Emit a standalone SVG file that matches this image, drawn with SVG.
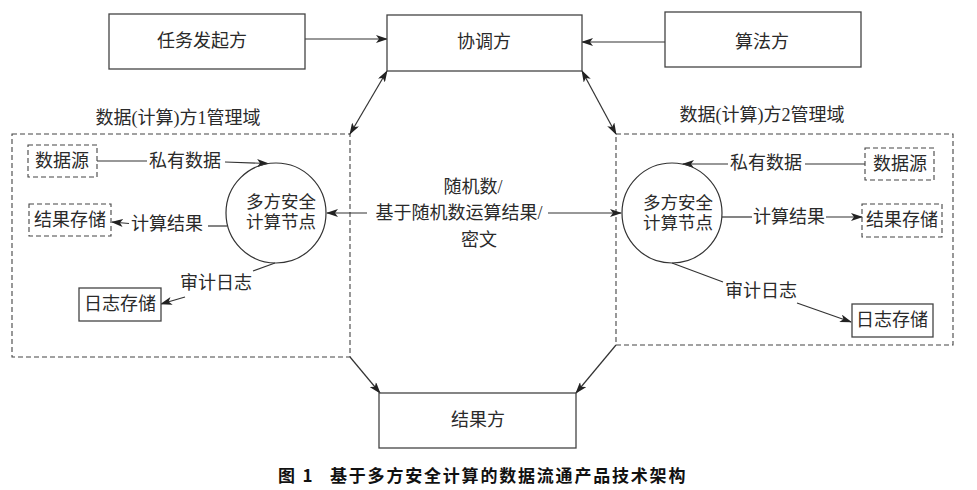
<svg xmlns="http://www.w3.org/2000/svg" width="977" height="490" viewBox="0 0 977 490">
<defs>
<marker id="ah" viewBox="0 0 12 8" refX="11" refY="4" markerWidth="12" markerHeight="8" markerUnits="userSpaceOnUse" orient="auto-start-reverse">
<path d="M0,0 L12,4 L0,8 L3,4 z" fill="#222"/>
</marker>
</defs>
<style>
text{font-family:"Liberation Serif","Noto Sans CJK SC",serif;font-size:18px;fill:#2a2a2a;text-anchor:middle;dominant-baseline:central}
.ct{font-size:17.5px}
.box{fill:#fff;stroke:#444;stroke-width:1.3}
.dbox{fill:none;stroke:#444;stroke-width:1.1;stroke-dasharray:5 3}
.node{fill:none;stroke:#333;stroke-width:1.2}
.ln{fill:none;stroke:#333;stroke-width:1.2}
.ar{fill:none;stroke:#333;stroke-width:1.2;marker-end:url(#ah)}
.ar2{fill:none;stroke:#333;stroke-width:1.2;marker-end:url(#ah);marker-start:url(#ah)}
.cap{font-family:"Noto Sans CJK SC",sans-serif;font-weight:bold;font-size:17px;fill:#111;text-anchor:start;letter-spacing:1.8px}
</style>
<rect width="977" height="490" fill="#fff"/>

<g id="domain1">
<rect class="dbox" x="12" y="134" width="338" height="223"/>
<text x="178" y="118">数据(计算)方1管理域</text>
</g>
<g id="domain2">
<rect class="dbox" x="616" y="134" width="337" height="211"/>
<text x="762" y="115">数据(计算)方2管理域</text>
</g>

<g id="connectors">
<path class="ar" d="M305,39 L387,39"/>
<path class="ar" d="M665,42 L582,42"/>
<path class="ar2" d="M387,71 L350,134"/>
<path class="ar2" d="M582,71 L616,134"/>
<path class="ar" d="M350,357 L380,393"/>
<path class="ar" d="M616,345 L576,393"/>
<path class="ar" d="M367,213 L327,213"/>
<path class="ar" d="M548,213 L621,213"/>
<path class="ln" d="M97,161 L147,161"/>
<path class="ar" d="M225,162 L268,163.5"/>
<path class="ln" d="M227,226 L208,226"/>
<path class="ar" d="M129,223.5 L112,222"/>
<path class="ln" d="M275,263 L253,271"/>
<path class="ar" d="M185,297 L161,304"/>
<path class="ln" d="M865,164 L805,164"/>
<path class="ar" d="M728,164 L683,164"/>
<path class="ln" d="M722,217 L752,217"/>
<path class="ar" d="M826,217 L862,217"/>
<path class="ln" d="M672,263 L723,282"/>
<path class="ar" d="M797,303 L851,322"/>
<text x="185" y="161">私有数据</text>
<text x="167" y="224">计算结果</text>
<text x="216" y="283">审计日志</text>
<text x="766" y="163">私有数据</text>
<text x="789" y="217">计算结果</text>
<text x="761" y="291">审计日志</text>
<text x="473" y="187">随机数/</text>
<text x="459" y="213">基于随机数运算结果/</text>
<text x="479" y="240">密文</text>
</g>

<g id="initiator">
<rect class="box" x="109" y="14" width="196" height="55"/>
<text x="202" y="41">任务发起方</text>
</g>
<g id="coordinator">
<rect class="box" x="387" y="15" width="195" height="56"/>
<text x="484" y="42">协调方</text>
</g>
<g id="algorithm">
<rect class="box" x="665" y="12" width="196" height="55"/>
<text x="762" y="42">算法方</text>
</g>
<g id="result">
<rect class="box" x="379" y="393" width="197" height="55"/>
<text x="478" y="420">结果方</text>
</g>

<g id="src1">
<rect class="dbox" x="28" y="145" width="69" height="32"/>
<text x="62" y="161">数据源</text>
</g>
<g id="store1">
<rect class="dbox" x="29" y="204" width="82" height="32"/>
<text x="70" y="220">结果存储</text>
</g>
<g id="log1">
<rect class="box" x="79" y="288" width="82" height="33"/>
<text x="120" y="304">日志存储</text>
</g>
<g id="mpc1">
<circle class="node" cx="276" cy="213" r="50"/>
<text class="ct" x="281" y="202">多方安全</text>
<text class="ct" x="281" y="222">计算节点</text>
</g>

<g id="src2">
<rect class="dbox" x="865" y="148" width="69" height="32"/>
<text x="900" y="164">数据源</text>
</g>
<g id="store2">
<rect class="dbox" x="862" y="204" width="80" height="33"/>
<text x="902" y="220">结果存储</text>
</g>
<g id="log2">
<rect class="box" x="852" y="304" width="81" height="33"/>
<text x="892" y="320">日志存储</text>
</g>
<g id="mpc2">
<circle class="node" cx="672" cy="213" r="50"/>
<text class="ct" x="678" y="203">多方安全</text>
<text class="ct" x="678" y="223">计算节点</text>
</g>

<g id="caption">
<text class="cap" x="278" y="474">图 1</text>
<text class="cap" x="330" y="474">基于多方安全计算的数据流通产品技术架构</text>
</g>
</svg>
